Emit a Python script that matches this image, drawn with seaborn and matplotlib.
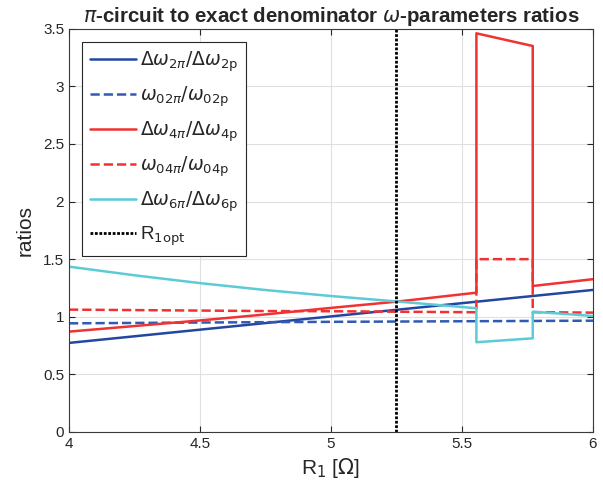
import matplotlib
matplotlib.use("Agg")
import matplotlib.pyplot as plt
import seaborn as sns
import numpy as np

# Resistance sweep samples and ratio curves (jumps are repeated x values)
r1_smooth = [4.0, 4.5, 5.0, 5.5, 6.0]
dw2_ratio = [0.773, 0.888, 1.003, 1.118, 1.233]
w02_ratio = [0.943, 0.950, 0.956, 0.961, 0.966]

r1_dw4 = [4.0, 4.5, 4.73, 5.0, 5.25, 5.555, 5.555, 5.77, 5.77, 6.0]
dw4_ratio = [0.871, 0.968, 1.016, 1.077, 1.131, 1.209, 3.46, 3.35, 1.267, 1.326]

r1_w04 = [4.0, 4.73, 5.0, 5.555, 5.555, 5.77, 5.77, 6.0]
w04_ratio = [1.062, 1.050, 1.048, 1.039, 1.5, 1.5, 1.04, 1.036]

r1_dw6 = [4.0, 4.25, 4.5, 4.75, 5.0, 5.25, 5.555, 5.555, 5.77, 5.77, 6.0]
dw6_ratio = [1.435, 1.36, 1.292, 1.232, 1.18, 1.133, 1.074, 0.779, 0.813, 1.044, 1.007]

R1_OPT = 5.25

labels = [
    r"$\Delta\omega_{2\pi}/\Delta\omega_{2\mathrm{p}}$",
    r"$\omega_{02\pi}/\omega_{02\mathrm{p}}$",
    r"$\Delta\omega_{4\pi}/\Delta\omega_{4\mathrm{p}}$",
    r"$\omega_{04\pi}/\omega_{04\mathrm{p}}$",
    r"$\Delta\omega_{6\pi}/\Delta\omega_{6\mathrm{p}}$",
    r"R$_{\mathrm{1opt}}$",
]
x_ticks = [4, 4.5, 5, 5.5, 6]
x_tick_labels = ["4", "4.5", "5", "5.5", "6"]
y_ticks = [0, 0.5, 1, 1.5, 2, 2.5, 3, 3.5]
y_tick_labels = ["0", "0.5", "1", "1.5", "2", "2.5", "3", "3.5"]

sns.set_style("white")
plt.rcParams["font.family"] = ["Liberation Sans", "DejaVu Sans"]
plt.rcParams["mathtext.fontset"] = "dejavusans"

fig = plt.figure(figsize=(6.03, 4.95), dpi=100)
ax = fig.add_axes([0.1144, 0.1273, 0.869, 0.8147])

series = [
    (r1_smooth, dw2_ratio, "#2347a0", "-"),
    (r1_smooth, w02_ratio, "#2f5bb5", "--"),
    (r1_dw4, dw4_ratio, "#f03232", "-"),
    (r1_w04, w04_ratio, "#f03232", "--"),
    (r1_dw6, dw6_ratio, "#5ccbd6", "-"),
]
for (xs, ys, col, ls), lab in zip(series, labels[:5]):
    sns.lineplot(x=xs, y=ys, ax=ax, color=col, linestyle=ls, linewidth=1.8,
                 sort=False, estimator=None, label=lab)

ax.axvline(R1_OPT, color="black", linestyle=(0, (1, 0.6)), linewidth=2.0,
           label=labels[5])

ax.set_xlim(4, 6)
ax.set_ylim(0, 3.5)
ax.set_xticks(x_ticks)
ax.set_xticklabels(x_tick_labels)
ax.set_yticks(y_ticks)
ax.set_yticklabels(y_tick_labels)
ax.grid(True, color="#e0e0e0", linewidth=0.8)
ax.tick_params(direction="in", length=4.5, labelsize=11, colors="#262626",
               top=True, right=True, bottom=True, left=True)
for sp in ax.spines.values():
    sp.set_color("#3a3a3a")
    sp.set_linewidth(0.8)

ax.set_xlabel(r"R$_1$ [$\Omega$]", fontsize=15, color="#262626", labelpad=4)
ax.set_ylabel("ratios", fontsize=15, color="#262626", labelpad=6)
ax.set_title(r"$\pi$-circuit to exact denominator $\omega$-parameters ratios",
             fontsize=14.8, fontweight="bold", pad=5)

leg = ax.legend(loc="upper left", bbox_to_anchor=(0.025, 0.967), fontsize=13.5,
                frameon=True, fancybox=False, edgecolor="#262626",
                handlelength=2.5, labelspacing=0.56, borderpad=0.4,
                borderaxespad=0, handletextpad=0.2, framealpha=1)
leg.get_frame().set_linewidth(0.8)

fig.savefig("out.png", dpi=100)
